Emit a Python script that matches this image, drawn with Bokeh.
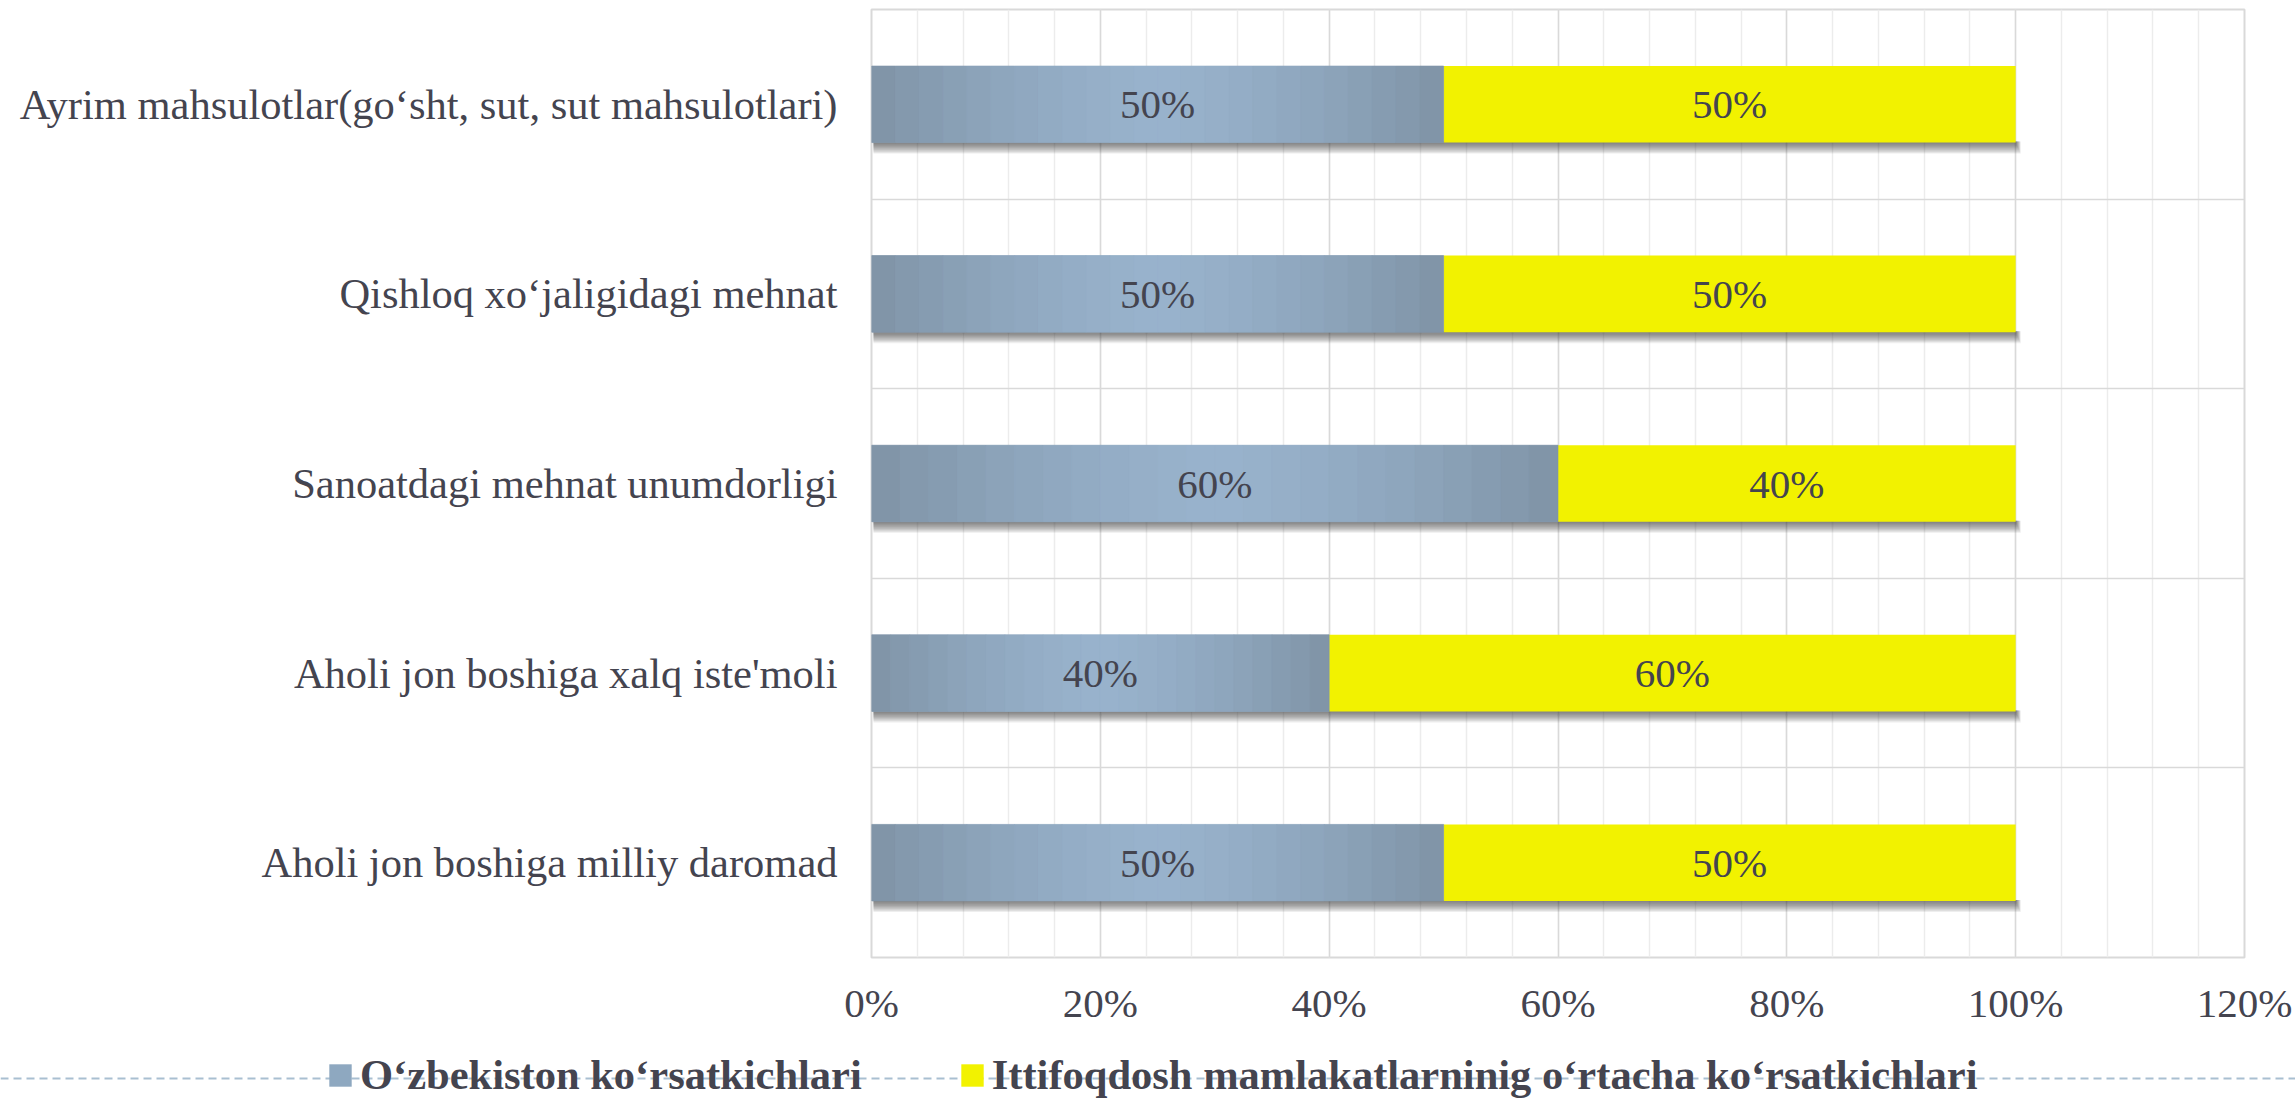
from bokeh.plotting import figure
from bokeh.models import (Range1d, SingleIntervalTicker, FixedTicker, PrintfTickFormatter,
                          ColumnDataSource, Legend, LegendItem, Span)
from bokeh.layouts import column
from bokeh.embed import file_html
from bokeh.resources import INLINE
from bokeh.core.properties import value

# ---------------- data ----------------
categories = [
    "Aholi jon boshiga milliy daromad",
    "Aholi jon boshiga xalq iste'moli",
    "Sanoatdagi mehnat unumdorligi",
    "Qishloq xo\u2018jaligidagi mehnat",
    "Ayrim mahsulotlar(go\u2018sht, sut, sut mahsulotlari)",
]
uzbekistan = [50, 40, 60, 50, 50]
ittifoq = [50, 60, 40, 50, 50]
series_names = [
    "O\u2018zbekiston ko\u2018rsatkichlari",
    "Ittifoqdosh mamlakatlarninig o\u2018rtacha ko\u2018rsatkichlari",
]
x_max = 120

# ---------------- style ----------------
FONT = "Liberation Serif"
TEXT = "#44444f"
BLUE = "#8ea8c0"
BLUE_EDGE = (127, 147, 166)
BLUE_MID = (152, 178, 204)
YELLOW = "#f2f200"
GRID = "#d9d9d9"
MINOR = "#ececec"
DASH = "#a9bfd1"
BAR_H = 0.404

W = 2295
H1, H2 = 1040, 61
BL, BR, BT, BB = 871, 51, 9, 83
FW, FH = W - BL - BR, H1 - BT - BB

ys = list(range(len(categories)))
totals = [a + b for a, b in zip(uzbekistan, ittifoq)]
src = ColumnDataSource(dict(
    y=ys,
    uz=uzbekistan,
    it=ittifoq,
    total=totals,
    uz_mid=[a / 2 for a in uzbekistan],
    it_mid=[a + b / 2 for a, b in zip(uzbekistan, ittifoq)],
    uz_lab=[f"{a}%" for a in uzbekistan],
    it_lab=[f"{b}%" for b in ittifoq],
))

y0, y1 = -0.5, len(categories) - 0.5
p = figure(width=W, height=H1, x_range=Range1d(0, x_max), y_range=Range1d(y0, y1),
           output_backend="svg", toolbar_location=None,
           min_border_left=BL, min_border_right=BR, min_border_top=BT, min_border_bottom=BB)
p.frame_align = False
p.background_fill_color = "white"
p.border_fill_color = "white"
p.outline_line_color = GRID
p.outline_line_width = 2

# x axis
p.xaxis.ticker = SingleIntervalTicker(interval=20, num_minor_ticks=5)
p.xaxis.formatter = PrintfTickFormatter(format="%d%%")
p.xaxis.axis_line_color = None
p.xaxis.major_tick_line_color = None
p.xaxis.minor_tick_line_color = None
p.xaxis.major_tick_out = 0
p.xaxis.major_tick_in = 0
p.xaxis.major_label_standoff = 18
p.xaxis.major_label_text_font = FONT
p.xaxis.major_label_text_font_size = "41px"
p.xaxis.major_label_text_color = TEXT

# y axis
p.yaxis.ticker = FixedTicker(ticks=ys)
p.yaxis.major_label_overrides = {i: c for i, c in zip(ys, categories)}
p.yaxis.axis_line_color = None
p.yaxis.major_tick_line_color = None
p.yaxis.minor_tick_line_color = None
p.yaxis.major_tick_out = 0
p.yaxis.major_tick_in = 0
p.yaxis.major_label_standoff = 34
p.yaxis.major_label_text_font = FONT
p.yaxis.major_label_text_font_size = "42.5px"
p.yaxis.major_label_text_color = TEXT

# grids
p.xgrid.grid_line_color = GRID
p.xgrid.grid_line_width = 1.5
p.xgrid.minor_grid_line_color = MINOR
p.xgrid.minor_grid_line_width = 1.5
p.ygrid.ticker = FixedTicker(ticks=[i + 0.5 for i in ys[:-1]])
p.ygrid.grid_line_color = GRID
p.ygrid.grid_line_width = 1.5

# shadows under bars
px_x = x_max / FW
px_y = (y1 - y0) / FH
for k in range(1, 11):
    p.quad(left=[px_x * 2] * len(ys),
           right=[t + px_x * k * 0.5 for t in totals],
           top=[y - BAR_H / 2 + px_y for y in ys],
           bottom=[y - BAR_H / 2 - px_y * k * 1.1 for y in ys],
           fill_color="#3a3a3a", fill_alpha=0.085, line_color=None)

# bars
p.hbar(y="y", left=0, right="uz", height=BAR_H, fill_color=BLUE, line_color=None, source=src)
p.hbar(y="y", left="uz", right="total", height=BAR_H, fill_color=YELLOW, line_color=None, source=src)

# soft shading of the blue bars (darker edges, lighter middle)
N = 24
sl_l, sl_r, sl_y, sl_c = [], [], [], []
for y, a in zip(ys, uzbekistan):
    for i in range(N):
        t = abs((i + 0.5) / N - 0.5) * 2
        c = tuple(int(round(m + (e - m) * t ** 1.5)) for m, e in zip(BLUE_MID, BLUE_EDGE))
        sl_l.append(a * i / N)
        sl_r.append(a * (i + 1) / N)
        sl_y.append(y)
        sl_c.append("#%02x%02x%02x" % c)
p.hbar(y=sl_y, left=sl_l, right=sl_r, height=BAR_H, fill_color=sl_c, line_color=sl_c, line_width=0.6)

# labels
for xcol, tcol in (("uz_mid", "uz_lab"), ("it_mid", "it_lab")):
    p.text(x=xcol, y="y", text=tcol, source=src, text_align="center", text_baseline="middle",
           text_font=value(FONT), text_font_size="41px", text_color=TEXT)

# ---------------- legend strip (full width, with the dashed slide rule) ----------------
p2 = figure(width=W, height=H2, x_range=Range1d(0, W), y_range=Range1d(0, H2),
            output_backend="svg", toolbar_location=None, min_border=0,
            x_axis_type=None, y_axis_type=None)
p2.frame_align = False
p2.grid.visible = False
p2.outline_line_color = None
p2.background_fill_color = "white"
p2.border_fill_color = "white"
p2.add_layout(Span(location=23, dimension="width", line_color=DASH, line_width=2, line_dash="8 5"))

# zero-size proxies so the legend can draw its swatches
r1 = p2.hbar(y=[0], left=[0], right=[0], height=0, fill_color=BLUE, line_color=None)
r2 = p2.hbar(y=[0], left=[0], right=[0], height=0, fill_color=YELLOW, line_color=None)
legend = Legend(items=[LegendItem(label=series_names[0], renderers=[r1]),
                       LegendItem(label=series_names[1], renderers=[r2])],
                location=(326, 2), orientation="horizontal",
                glyph_width=28, glyph_height=28, label_standoff=6, spacing=96,
                padding=0, margin=0, border_line_color=None, background_fill_alpha=0,
                label_text_font=FONT, label_text_font_style="bold",
                label_text_font_size="42.5px", label_text_color=TEXT, label_height=28,
                label_text_baseline="middle")
p2.add_layout(legend)

layout = column(p, p2, spacing=0)
open("out.html", "w").write(file_html(layout, INLINE))
